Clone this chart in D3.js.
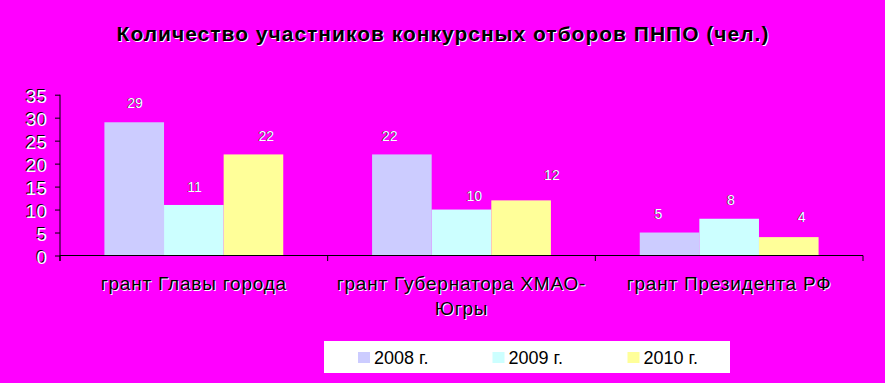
<!DOCTYPE html>
<html><head><meta charset="utf-8">
<script src="https://cdn.jsdelivr.net/npm/d3@7"></script>
<style>html,body{margin:0;padding:0;background:#FF00FF;}svg{display:block;}</style>
</head><body>
<svg id="chart" width="885" height="383"></svg>
<script>
const title = "Количество участников конкурсных отборов ПНПО (чел.)";
const categories = ["грант Главы города", "грант Губернатора ХМАО-Югры", "грант Президента РФ"];
const categoryLines = [["грант Главы города"], ["грант Губернатора ХМАО-", "Югры"], ["грант Президента РФ"]];
const series = ["2008 г.", "2009 г.", "2010 г."];
const values2008 = [29, 22, 5];
const values2009 = [11, 10, 8];
const values2010 = [22, 12, 4];
const colors = ["#CCCCFF", "#CCFFFF", "#FFFF99"];
const yTicks = [0, 5, 10, 15, 20, 25, 30, 35];

const allValues = [values2008, values2009, values2010];
const svg = d3.select("#chart");
const font = "Arial, 'Liberation Sans', sans-serif";

svg.append("rect").attr("width", 885).attr("height", 383).attr("fill", "#FF00FF");

const x = d3.scaleBand().domain(categories).range([60, 863]).paddingInner(0).paddingOuter(0);
const xs = d3.scaleBand().domain(series).range([0, x.bandwidth()]).paddingInner(0).paddingOuter(0.745);
const y = d3.scaleLinear().domain([0, 35]).range([255.5, 94.7]);

// embossed text helper
function emboss(g, xPos, yPos, txt, opts) {
  const under = g.append("text").attr("x", xPos + (opts.dx ?? 1)).attr("y", yPos + (opts.dy ?? 1))
    .attr("fill", opts.shadow).text(txt);
  const over = g.append("text").attr("x", xPos).attr("y", yPos).attr("fill", opts.fill).text(txt);
  [under, over].forEach(t => t.attr("font-family", font).attr("font-size", opts.size)
    .attr("font-weight", opts.weight || "normal").attr("text-anchor", opts.anchor || "middle")
    .attr("letter-spacing", opts.ls || 0));
  if (opts.swap) { under.raise(); }
  return [under, over];
}

// title
const tg = svg.append("g");
emboss(tg, 443, 41, title, {fill: "#000", shadow: "#fff", size: 21, weight: "bold", ls: 1});

// bars
const bars = svg.append("g");
categories.forEach((c, ci) => {
  series.forEach((s, si) => {
    const v = allValues[si][ci];
    bars.append("rect")
      .attr("x", x(c) + xs(s))
      .attr("y", y(v))
      .attr("width", xs.bandwidth())
      .attr("height", y(0) - y(v))
      .attr("fill", colors[si]);
  });
});

// axes
const yAxis = d3.axisLeft(y).tickValues(yTicks).tickSize(5).tickFormat("");
const yg = svg.append("g").attr("transform", "translate(60,0)").call(yAxis);
yg.select(".domain").remove();
yg.append("line").attr("x1", 0).attr("x2", 0).attr("y1", y(35)).attr("y2", 261).attr("stroke", "#000");
yg.selectAll(".tick line").attr("stroke", "#000");

const boundaries = [60, ...categories.map(c => x(c) + x.bandwidth())];
const xg = svg.append("g");
xg.append("line").attr("x1", 60).attr("x2", 863).attr("y1", y(0)).attr("y2", y(0)).attr("stroke", "#000");
xg.selectAll("line.tk").data(boundaries).enter().append("line").attr("class", "tk")
  .attr("x1", d => d).attr("x2", d => d).attr("y1", y(0)).attr("y2", 261).attr("stroke", "#000");

// y tick labels (white with dark edge)
const yl = svg.append("g");
yTicks.forEach(t => {
  emboss(yl, 46, y(t) + 7, String(t), {fill: "#000", shadow: "#fff", size: 19, anchor: "end", swap: true});
});

// data labels (label placement nudges as in the original picture: [dx, gap above bar])
const labelNudge = [
  [[0, 14], [0, 13], [12, 13]],
  [[-13, 13], [12, 9], [30, 20]],
  [[-12, 14], [1, 14], [12, 15.5]]
];
const dl = svg.append("g");
categories.forEach((c, ci) => {
  series.forEach((s, si) => {
    const v = allValues[si][ci];
    const [ndx, gap] = labelNudge[ci][si];
    emboss(dl, x(c) + xs(s) + xs.bandwidth() / 2 + ndx, y(v) - gap, String(v),
      {fill: "#222", shadow: "#fff", size: 14, swap: true, dx: 0.8, dy: 0});
  });
});

// category labels
const cl = svg.append("g");
categories.forEach((c, ci) => {
  categoryLines[ci].forEach((line, li) => {
    emboss(cl, x(c) + x.bandwidth() / 2, 290 + li * 25, line, {fill: "#000", shadow: "#fff", size: 19, ls: 0.8});
  });
});

// legend
const lg = svg.append("g");
lg.append("rect").attr("x", 324).attr("y", 341).attr("width", 406).attr("height", 32).attr("fill", "#fff");
const legX = d3.scaleOrdinal().domain(series).range([358, 492.5, 627.5]);
series.forEach((s, si) => {
  lg.append("rect").attr("x", legX(s)).attr("y", 352).attr("width", 12).attr("height", 11).attr("fill", colors[si]);
  lg.append("text").attr("x", legX(s) + 16).attr("y", 363.5).attr("font-family", font)
    .attr("font-size", 18).attr("fill", "#000").text(s);
});
</script>
</body></html>
